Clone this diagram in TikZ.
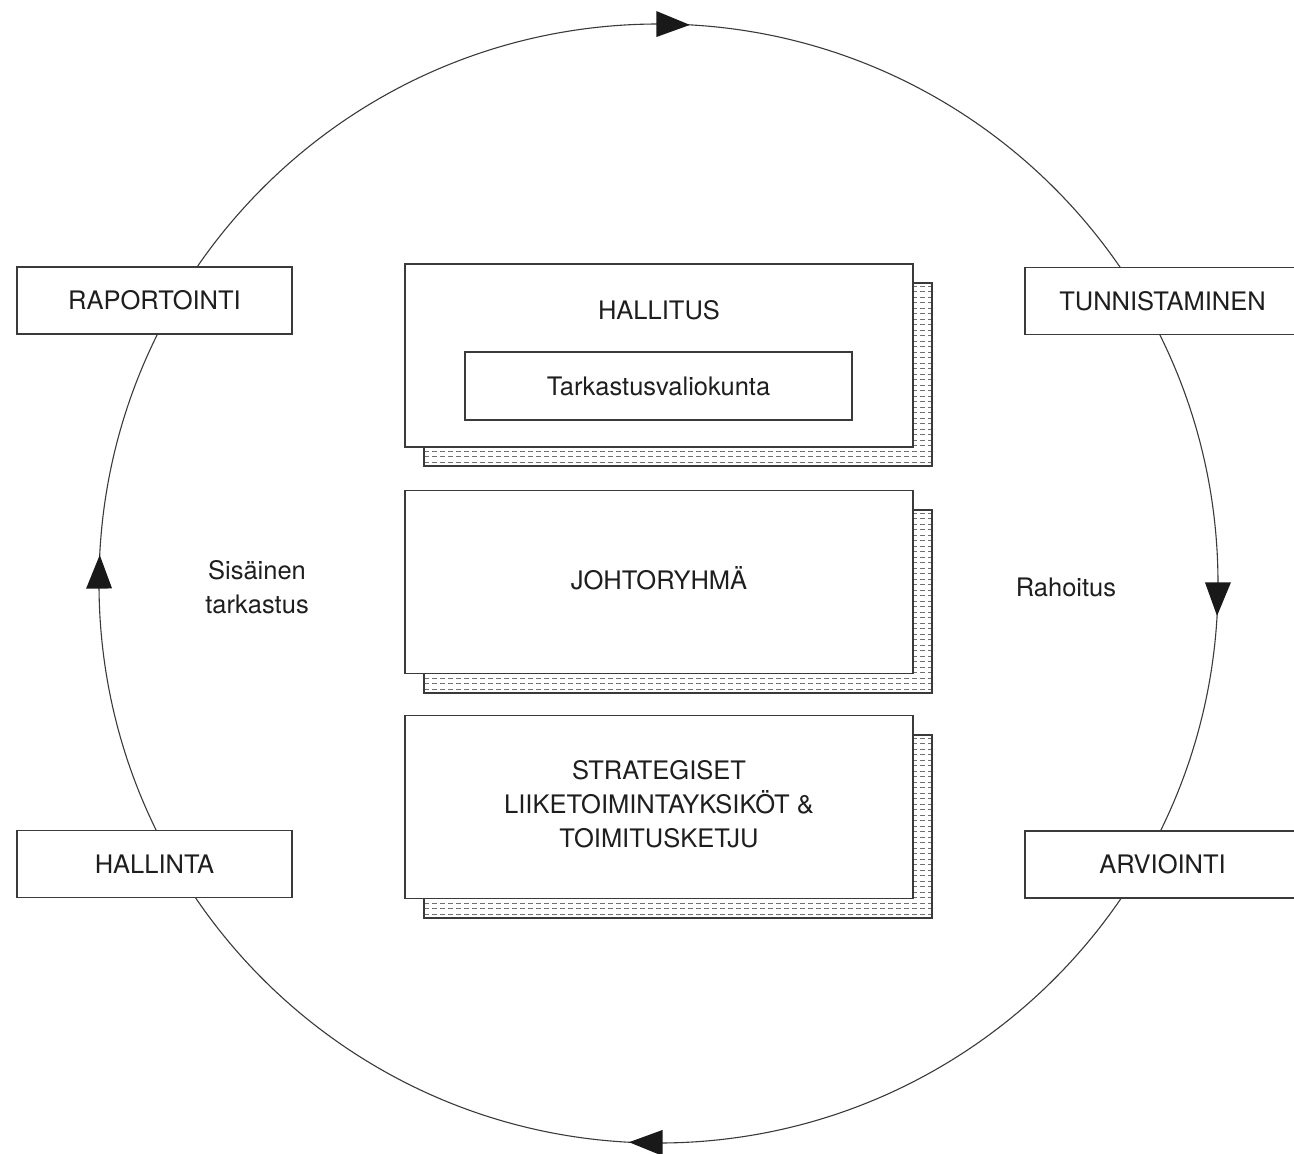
\documentclass[tikz,border=0pt]{standalone}
\usepackage{fontspec}
\setmainfont{TeX Gyre Heros}
\usetikzlibrary{calc}
\definecolor{linec}{HTML}{3A3A3A}
\definecolor{textc}{HTML}{1E1E1E}
\definecolor{hatchc}{HTML}{707070}
\tikzset{
  lbl/.style={font=\fontsize{25.5}{34}\selectfont, text=textc, align=center, inner sep=0pt},
  sidebox/.style={draw=linec, line width=1.4pt, fill=white, minimum width=275pt, minimum height=67pt, inner sep=0pt},
  mainbox/.style={draw=linec, line width=1.4pt, fill=white, minimum width=508pt, minimum height=183pt, inner sep=0pt},
  innerbox/.style={draw=linec, line width=1.3pt, fill=white, minimum width=387pt, minimum height=68pt, inner sep=0pt},
  ring/.style={draw=linec, line width=1.1pt},
  arrowfill/.style={fill=black!90},
  hatch/.style={draw=hatchc, line width=0.6pt, dash pattern=on 5pt off 3pt},
}
\begin{document}
\begin{tikzpicture}[x=1pt,y=-1pt]
\clip (0,0) rectangle (1294,1154);
\fill[white] (0,0) rectangle (1294,1154);
\coordinate (C) at (658.5,583.5);
% ring
\draw[ring] (C) circle (559.5);
% arrowheads
\foreach \a in {-88.5, 1.6, 91.3, 181.2} {
  \fill[arrowfill] ($(C)+(\a+1.72:559.5)$) -- ($(C)+(\a-1.72:546.5)$) -- ($(C)+(\a-1.72:572.5)$) -- cycle;
}
% side boxes
\node[sidebox] (rap) at (154.5,300.5) {};
\node[lbl] (raptext) at (rap.center) {RAPORTOINTI};
\node[sidebox] (hal) at (154.5,864) {};
\node[lbl] (haltext) at (hal.center) {HALLINTA};
\node[sidebox] (tun) at (1162.5,301) {};
\node[lbl] (tuntext) at (tun.center) {TUNNISTAMINEN};
\node[sidebox] (arv) at (1162.5,864.5) {};
\node[lbl] (arvtext) at (arv.center) {ARVIOINTI};
% shadows
\foreach \yt in {283, 510, 735} {
  \begin{scope}
    \clip (424,\yt) rectangle (932,\yt+183);
    \fill[white] (424,\yt) rectangle (932,\yt+183);
    \foreach \k in {0,...,33} {
      \draw[hatch] (424,\yt+3+5.5*\k) -- (932,\yt+3+5.5*\k);
    }
  \end{scope}
  \draw[draw=linec, line width=1.2pt] (424,\yt) rectangle (932,\yt+183);
}
% main boxes
\node[mainbox] (hallitus) at (659,355.5) {};
\node[lbl] (hallitustext) at (659,310) {HALLITUS};
\node[innerbox] (tark) at (658.5,386) {};
\node[lbl] (tarktext) at (tark.center) {Tarkastusvaliokunta};
\node[mainbox] (johto) at (659,582) {};
\node[lbl] (johtotext) at (659,578) {JOHTORYHMÄ};
\node[mainbox] (strat) at (659,807) {};
\node[lbl] (strattext) at (659,804) {STRATEGISET\\LIIKETOIMINTAYKSIKÖT \&\\TOIMITUSKETJU};
% free labels
\node[lbl] (sis) at (257,587) {Sisäinen\\tarkastus};
\node[lbl] (rah) at (1066,587) {Rahoitus};
\end{tikzpicture}
\end{document}
